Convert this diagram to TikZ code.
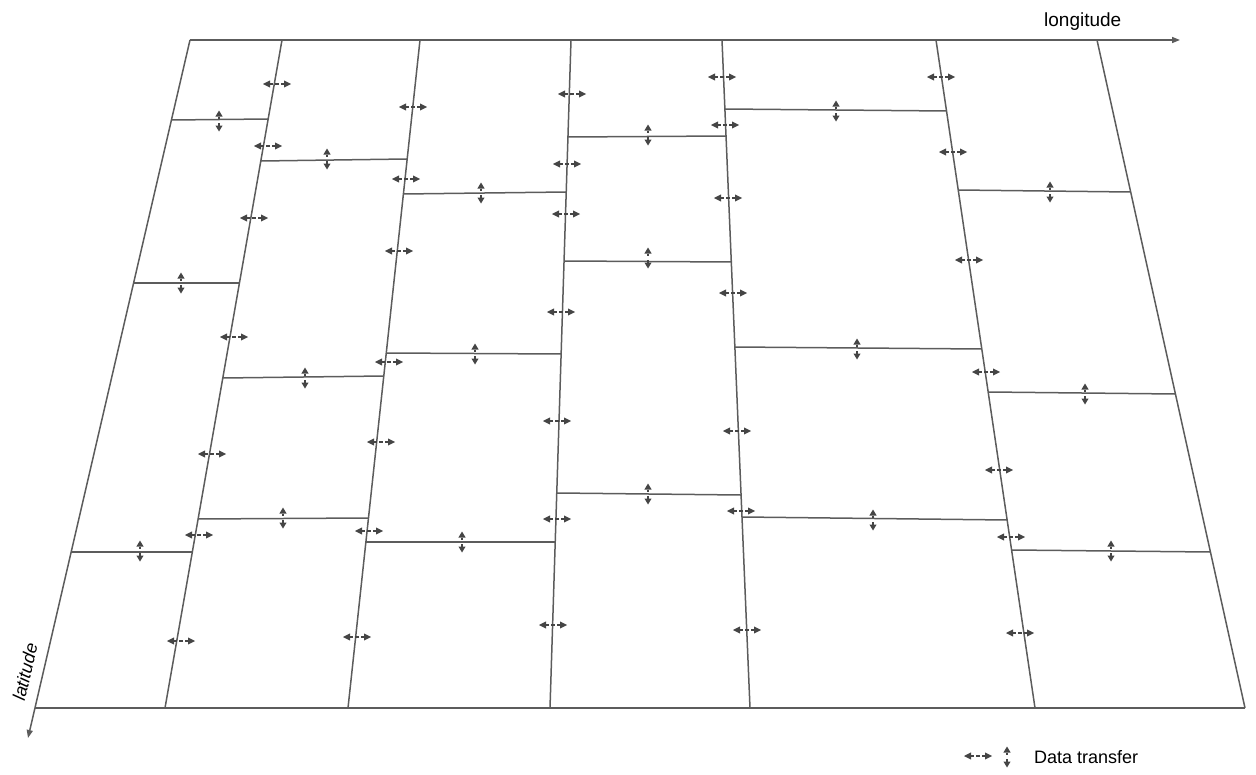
\documentclass[tikz,border=0pt]{standalone}
\usepackage{fontspec}
\setmainfont{Liberation Sans}
\usetikzlibrary{calc,arrows.meta}
\definecolor{linegray}{HTML}{5C5C5C}
\definecolor{markgray}{HTML}{454545}
\newcommand\hseg[4]{\draw[grid] ($(#1t)!{(#3-40)/668}!(#1b)$) -- ($(#2t)!{(#4-40)/668}!(#2b)$);}
\begin{document}
\begin{tikzpicture}[x=1pt,y=-1pt,
  grid/.style={draw=linegray, line width=1.5pt},
  axis/.style={draw=linegray, line width=1.5pt, -{Triangle[length=8pt,width=6pt]}},
  lbl/.style={inner sep=0pt, text=black},
  harr/.pic={
    \fill[markgray] (-14,0) -- (-7,-3.6) -- (-7,3.6) -- cycle;
    \fill[markgray] (14,0) -- (7,-3.6) -- (7,3.6) -- cycle;
    \draw[markgray, line width=1.3pt] (-7,0) -- (-4.2,0) (-1.6,0) -- (1.6,0) (4.2,0) -- (7,0);
  },
  varr/.pic={
    \fill[markgray] (0,-10.5) -- (-3.6,-4.5) -- (3.6,-4.5) -- cycle;
    \fill[markgray] (0,10.5) -- (-3.6,4.5) -- (3.6,4.5) -- cycle;
    \draw[markgray, line width=1.3pt] (0,-4.5) -- (0,-2.2) (0,2.2) -- (0,4.5);
  }]
\useasboundingbox (0,0) rectangle (1256,774);
% frame corners and divider ends
\coordinate (Lt) at (190,40);   \coordinate (Lb) at (35,708);
\coordinate (D1t) at (282,40);  \coordinate (D1b) at (165,708);
\coordinate (D2t) at (420,40);  \coordinate (D2b) at (348,708);
\coordinate (D3t) at (571,40);  \coordinate (D3b) at (550,708);
\coordinate (D4t) at (722,40);  \coordinate (D4b) at (750,708);
\coordinate (D5t) at (936,40);  \coordinate (D5b) at (1035,708);
\coordinate (Rt) at (1097,40);  \coordinate (Rb) at (1245,708);
\coordinate (lonEnd) at (1180,40);
\coordinate (latEnd) at (28,738);
% axes and frame
\draw[axis] (Lt) -- (lonEnd);
\draw[axis] (Lt) -- (latEnd);
\draw[grid] (Lb) -- (Rb);
\draw[grid] (Rt) -- (Rb);
\foreach \d in {D1,D2,D3,D4,D5}{\draw[grid] (\d t) -- (\d b);}
% block boundaries
\hseg{L}{D1}{120}{119}
\hseg{L}{D1}{283}{283}
\hseg{L}{D1}{552}{552}
\hseg{D1}{D2}{161}{159}
\hseg{D1}{D2}{378}{376}
\hseg{D1}{D2}{519}{518}
\hseg{D2}{D3}{194}{192}
\hseg{D2}{D3}{353}{354}
\hseg{D2}{D3}{542}{542}
\hseg{D3}{D4}{137}{136}
\hseg{D3}{D4}{261}{262}
\hseg{D3}{D4}{493}{495}
\hseg{D4}{D5}{109}{111}
\hseg{D4}{D5}{347}{349}
\hseg{D4}{D5}{517}{520}
\hseg{D5}{R}{190}{192}
\hseg{D5}{R}{392}{394}
\hseg{D5}{R}{550}{552}
% horizontal data-transfer markers
\foreach \p in {(277,84),(268,146),(254,218),(234,337),(212,454),(199,535),(181,641),
                (413,107),(406,179),(399,251),(389,362),(381,442),(369,531),(357,637),
                (572,94),(567,164),(566,214),(561,312),(557,421),(557,519),(553,625),
                (722,77),(725,125),(728,198),(733,293),(737,431),(741,511),(747,630),
                (941,77),(953,152),(969,260),(986,372),(999,470),(1011,537),(1020,633)}
  {\pic at \p {harr};}
% vertical data-transfer markers
\foreach \p in {(219,121),(181,283),(140,551),
                (327,159),(305,378),(283,518),
                (481,193),(475,354),(462,542),
                (648,135),(648,258),(648,494),
                (836,111),(857,349),(873,520),
                (1050,192),(1085,394),(1111,551)}
  {\pic at \p {varr};}
% labels
\node[lbl, anchor=base west, font=\fontsize{19}{22}\selectfont] (lon) at (1044,26) {longitude};
\node[lbl, rotate=77, font=\fontsize{18}{21}\selectfont\itshape] (lat) at (25,672) {latitude};
% legend
\pic at (978,756) {harr};
\pic at (1007,757) {varr};
\node[lbl, anchor=base west, font=\fontsize{18}{21}\selectfont] (leg) at (1034,763) {Data transfer};
\end{tikzpicture}
\end{document}
